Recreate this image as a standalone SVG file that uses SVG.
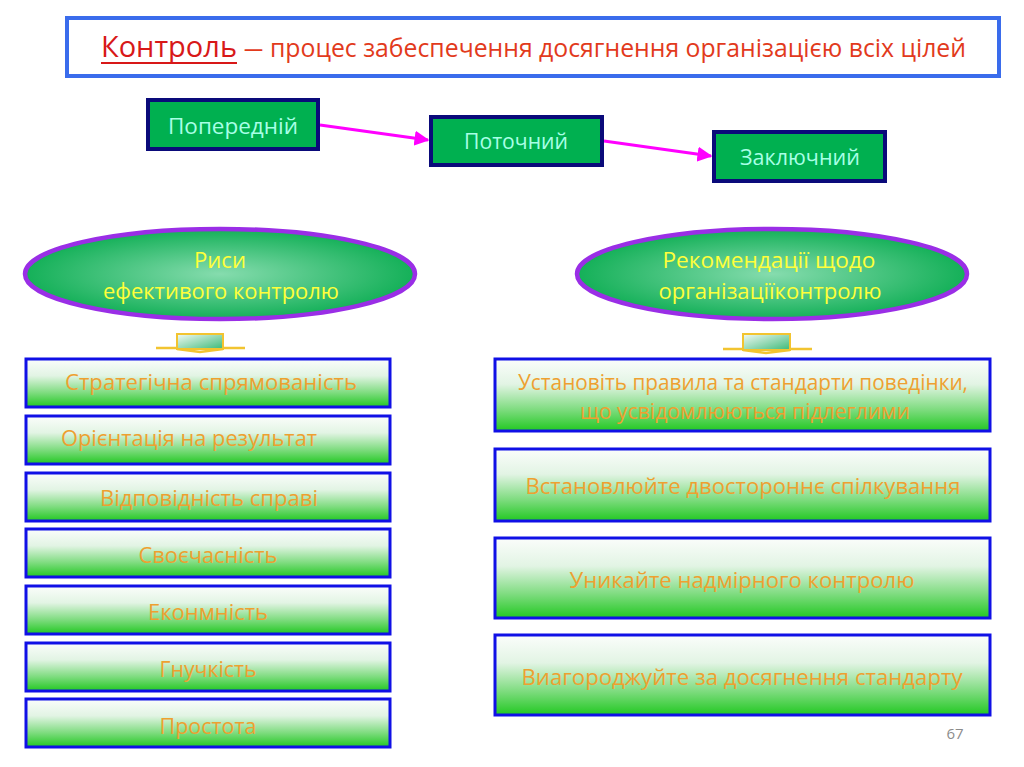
<svg xmlns="http://www.w3.org/2000/svg" width="1024" height="767" viewBox="0 0 1024 767">
  <defs>
    <linearGradient id="boxGrad" x1="0" y1="0" x2="0" y2="1">
      <stop offset="0" stop-color="#fbfdfb"/>
      <stop offset="0.35" stop-color="#e2f4e4"/>
      <stop offset="0.7" stop-color="#7fdc80"/>
      <stop offset="1" stop-color="#22c822"/>
    </linearGradient>
    <radialGradient id="ellGrad" cx="0.5" cy="0.5" r="0.5">
      <stop offset="0" stop-color="#86dcae"/>
      <stop offset="1" stop-color="#14b058"/>
    </radialGradient>
    <linearGradient id="arrGrad" x1="0" y1="0" x2="1" y2="1">
      <stop offset="0" stop-color="#f4faf6"/>
      <stop offset="1" stop-color="#3cba78"/>
    </linearGradient>
    <marker id="mArrow" viewBox="0 0 10 10" refX="9" refY="5" markerWidth="5" markerHeight="5" orient="auto" markerUnits="strokeWidth">
      <path d="M0,0 L10,5 L0,10 z" fill="#ff00ff"/>
    </marker>
    <style>
      text { font-family: "Open Sans", "Noto Sans", "DejaVu Sans", sans-serif; }
      .stage rect { fill: #00b050; stroke: #0a0a7a; stroke-width: 4; }
      .stage text { fill: #a8ffe6; font-size: 22px; text-anchor: middle; }
      .ell ellipse { fill: url(#ellGrad); stroke: #9a2ee6; stroke-width: 4.5; }
      .ell text { fill: #ffff3a; font-size: 22px; text-anchor: middle; }
      .item rect { fill: url(#boxGrad); stroke: #1010e6; stroke-width: 3; }
      .item text { fill: #eea030; font-size: 22px; text-anchor: middle; }
      .conn line { stroke: #ff00ff; stroke-width: 3; }
      .darr rect { fill: url(#arrGrad); stroke: #f2c430; stroke-width: 2; }
      .darr path { fill: none; stroke: #f2c430; stroke-width: 2.5; }
    </style>
  </defs>

  <rect width="1024" height="767" fill="#ffffff"/>

  <!-- Title -->
  <g id="title">
    <rect x="67" y="18" width="932" height="58" fill="#ffffff" stroke="#3a6cec" stroke-width="4"/>
    <text x="101" y="57" font-size="29" fill="#d81818" textLength="136" lengthAdjust="spacingAndGlyphs">Контроль</text>
    <line x1="101" y1="63" x2="237" y2="63" stroke="#d81818" stroke-width="2"/>
    <text x="243" y="57" font-size="25" fill="#e23a1c" textLength="21" lengthAdjust="spacingAndGlyphs">–</text>
    <text x="270" y="57" font-size="25" fill="#e23a1c" textLength="696" lengthAdjust="spacingAndGlyphs">процес забеспечення досягнення організацією всіх цілей</text>
  </g>

  <!-- Connectors -->
  <g id="connectors" class="conn">
    <line x1="320" y1="125" x2="428" y2="140" marker-end="url(#mArrow)"/>
    <line x1="604" y1="141" x2="711" y2="156" marker-end="url(#mArrow)"/>
  </g>

  <!-- Stage nodes -->
  <g id="node-poperedniy" class="stage">
    <rect x="148" y="100" width="170" height="49"/>
    <text x="233" y="134" textLength="130" lengthAdjust="spacingAndGlyphs">Попередній</text>
  </g>
  <g id="node-potochnyi" class="stage">
    <rect x="431" y="117" width="171" height="48"/>
    <text x="516" y="149" textLength="104" lengthAdjust="spacingAndGlyphs">Поточний</text>
  </g>
  <g id="node-zakliuchnyi" class="stage">
    <rect x="714" y="132" width="171" height="49"/>
    <text x="800" y="165" textLength="120" lengthAdjust="spacingAndGlyphs">Заключний</text>
  </g>

  <!-- Ellipses -->
  <g id="node-rysy" class="ell">
    <ellipse cx="220" cy="274" rx="195" ry="45"/>
    <text x="220" y="268" textLength="52" lengthAdjust="spacingAndGlyphs">Риси</text>
    <text x="221" y="299" textLength="236" lengthAdjust="spacingAndGlyphs">ефективого контролю</text>
  </g>
  <g id="node-rekomendatsii" class="ell">
    <ellipse cx="772" cy="274" rx="195" ry="45"/>
    <text x="769" y="268" textLength="213" lengthAdjust="spacingAndGlyphs">Рекомендації щодо</text>
    <text x="770" y="299" textLength="223" lengthAdjust="spacingAndGlyphs">організаціїконтролю</text>
  </g>

  <!-- Small down arrows -->
  <g id="darrow-left" class="darr">
    <path d="M156,348 L245,348"/>
    <rect x="177" y="334" width="46" height="15"/>
    <path d="M177,349 L200,352 L223,349"/>
  </g>
  <g id="darrow-right" class="darr">
    <path d="M723,349 L812,349"/>
    <rect x="743" y="334" width="47" height="16"/>
    <path d="M743,350 L766,353 L790,350"/>
  </g>

  <!-- Left list -->
  <g id="item-l1" class="item">
    <rect x="26" y="359" width="364" height="48"/>
    <text x="211" y="390" textLength="292" lengthAdjust="spacingAndGlyphs">Стратегічна спрямованість</text>
  </g>
  <g id="item-l2" class="item">
    <rect x="26" y="416" width="364" height="48"/>
    <text x="189" y="446" textLength="256" lengthAdjust="spacingAndGlyphs">Орієнтація на результат</text>
  </g>
  <g id="item-l3" class="item">
    <rect x="26" y="473" width="364" height="48"/>
    <text x="209" y="506" textLength="218" lengthAdjust="spacingAndGlyphs">Відповідність справі</text>
  </g>
  <g id="item-l4" class="item">
    <rect x="26" y="529" width="364" height="48"/>
    <text x="208" y="563" textLength="139" lengthAdjust="spacingAndGlyphs">Своєчасність</text>
  </g>
  <g id="item-l5" class="item">
    <rect x="26" y="586" width="364" height="48"/>
    <text x="208" y="620" textLength="120" lengthAdjust="spacingAndGlyphs">Еконмність</text>
  </g>
  <g id="item-l6" class="item">
    <rect x="26" y="643" width="364" height="48"/>
    <text x="208" y="677" textLength="97" lengthAdjust="spacingAndGlyphs">Гнучкість</text>
  </g>
  <g id="item-l7" class="item">
    <rect x="26" y="699" width="364" height="48"/>
    <text x="208" y="734" textLength="97" lengthAdjust="spacingAndGlyphs">Простота</text>
  </g>

  <!-- Right list -->
  <g id="item-r1" class="item">
    <rect x="495" y="359" width="495" height="72"/>
    <text x="743" y="390" textLength="450" lengthAdjust="spacingAndGlyphs">Установіть правила та стандарти поведінки,</text>
    <text x="745" y="419" textLength="330" lengthAdjust="spacingAndGlyphs">що усвідомлюються підлеглими</text>
  </g>
  <g id="item-r2" class="item">
    <rect x="495" y="449" width="495" height="72"/>
    <text x="743" y="494" textLength="435" lengthAdjust="spacingAndGlyphs">Встановлюйте двостороннє спілкування</text>
  </g>
  <g id="item-r3" class="item">
    <rect x="495" y="538" width="495" height="80"/>
    <text x="742" y="588" textLength="345" lengthAdjust="spacingAndGlyphs">Уникайте надмірного контролю</text>
  </g>
  <g id="item-r4" class="item">
    <rect x="495" y="635" width="495" height="80"/>
    <text x="742" y="685" textLength="441" lengthAdjust="spacingAndGlyphs">Виагороджуйте за досягнення стандарту</text>
  </g>

  <text x="955" y="739" font-size="15" fill="#8c8c8c" text-anchor="middle">67</text>
</svg>
